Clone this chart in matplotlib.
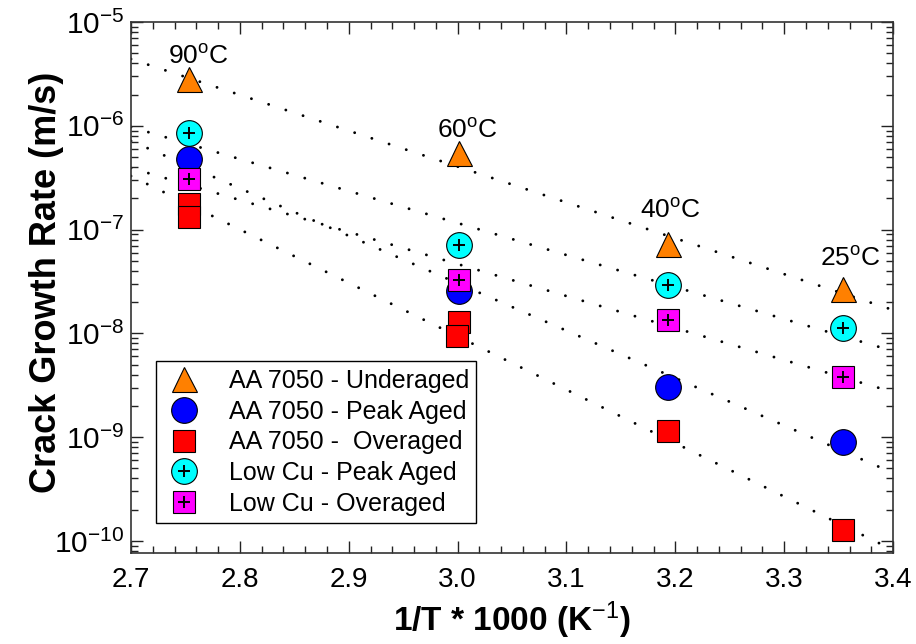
import numpy as np
import matplotlib.pyplot as plt
import matplotlib.ticker as ticker
from matplotlib.legend_handler import HandlerTuple

# test temperatures (C) and the matching 1000/T axis positions
temps = [90, 60, 40, 25]
inv_t = [1000.0 / (t + 273.15) for t in temps]

# crack growth rates (m/s)
under_7050 = [2.85e-6, 5.5e-7, 7.3e-8, 2.7e-8]
peak_7050 = [4.75e-7, 2.57e-8, 3.07e-9, 8.9e-10]
over_x = [inv_t[0], inv_t[0], inv_t[1], 2.9995, inv_t[2], inv_t[3]]
over_7050 = [1.78e-7, 1.31e-7, 1.29e-8, 9.4e-9, 1.14e-9, 1.27e-10]
peak_lowcu = [8.6e-7, 7.1e-8, 2.9e-8, 1.12e-8]
over_lowcu = [3.08e-7, 3.27e-8, 1.35e-8, 3.83e-9]

# Arrhenius fit lines, rate at 1000/T = 2.7 and 3.4
fit_x = [2.7, 3.4]
fit_under = [4.4e-6, 1.68e-8]
fit_peak = [7.15e-7, 4.52e-10]
fit_over = [3.28e-7, 8.18e-11]
fit_lowcu_peak = [9.73e-7, 6.76e-9]
fit_lowcu_over = [3.92e-7, 2.72e-9]

labels = ['AA 7050 - Underaged', 'AA 7050 - Peak Aged', 'AA 7050 -  Overaged',
          'Low Cu - Peak Aged', 'Low Cu - Overaged']

plt.rcParams['font.family'] = ['Liberation Sans', 'DejaVu Sans']
plt.rcParams['mathtext.fontset'] = 'custom'
plt.rcParams['mathtext.rm'] = 'Liberation Sans'
plt.rcParams['mathtext.it'] = 'Liberation Sans:italic'
plt.rcParams['mathtext.bf'] = 'Liberation Sans:bold'

fig = plt.figure(figsize=(9.16, 6.44), dpi=100)
ax = fig.add_axes([0.143, 0.1413, 0.832, 0.8245])

dots = dict(color='k', lw=2.1, linestyle=(0, (0.01, 6.2)), dash_capstyle='round', zorder=1)
for fy in [fit_under, fit_lowcu_peak, fit_peak, fit_lowcu_over, fit_over]:
    ax.plot(fit_x, fy, **dots)

edge = dict(mec='k', mew=0.8, ls='none')
h_under, = ax.plot(inv_t, under_7050, '^', ms=18, mfc='#ff8000', zorder=3, **edge)
h_peak, = ax.plot(inv_t, peak_7050, 'o', ms=18.5, mfc='#0000ff', zorder=3, **edge)
h_over, = ax.plot(over_x, over_7050, 's', ms=16.3, mfc='#ff0000', zorder=3, **edge)
h_lpeak, = ax.plot(inv_t, peak_lowcu, 'o', ms=18.5, mfc='#00ffff', zorder=4, **edge)
h_lover, = ax.plot(inv_t, over_lowcu, 's', ms=16.3, mfc='#ff00ff', zorder=4, **edge)
h_plus, = ax.plot(inv_t + inv_t, peak_lowcu + over_lowcu, '+', ms=9, mew=1.4,
                  color='k', ls='none', zorder=5)

# temperature tags above the underaged points
tag_x = [2.7615, 3.0087, 3.1951, 3.3605]
tag_y = [3.95e-6, 7.67e-7, 1.30e-7, 4.51e-8]
for t, tx, ty in zip(temps, tag_x, tag_y):
    ax.text(tx, ty, f'{t}$^{{\\rm o}}$C', ha='center', va='baseline', fontsize=19)

ax.set_yscale('log')
ax.set_xlim(2.7, 3.4)
ax.set_ylim(10 ** -10.116, 1e-5)
ax.xaxis.set_major_locator(ticker.MultipleLocator(0.1))
ax.xaxis.set_minor_locator(ticker.MultipleLocator(0.02))
ax.xaxis.set_major_formatter(ticker.FormatStrFormatter('%.1f'))
ax.yaxis.set_major_locator(ticker.LogLocator(base=10, numticks=10))
ax.yaxis.set_minor_locator(ticker.LogLocator(base=10, subs=np.arange(2, 10), numticks=20))
ax.yaxis.set_minor_formatter(ticker.NullFormatter())
ax.tick_params(which='both', direction='in', top=True, right=True, width=1, colors='#222222')
ax.tick_params(which='major', length=8.5, labelcolor='k')
ax.tick_params(which='minor', length=5)
ax.tick_params(axis='x', which='major', pad=10, labelsize=20)
ax.tick_params(axis='y', which='major', pad=5, labelsize=21.5)
for s in ax.spines.values():
    s.set_linewidth(1.2)
    s.set_color('#333333')

ax.set_xlabel('1/T * 1000 (K$^{-1}$)', fontsize=24, fontweight='bold')
ax.set_ylabel('Crack Growth Rate (m/s)', fontsize=26, fontweight='bold')
ax.xaxis.set_label_coords(0.5, -0.088)
ax.yaxis.set_label_coords(-0.088, 0.51)

leg = ax.legend([h_under, h_peak, h_over, (h_lpeak, h_plus), (h_lover, h_plus)], labels,
                handler_map={tuple: HandlerTuple(ndivide=1, pad=0)},
                loc='lower left', bbox_to_anchor=(0.033, 0.056), borderaxespad=0,
                fontsize=18, frameon=True, fancybox=False, framealpha=1,
                edgecolor='k', handlelength=1.6, handletextpad=1.0,
                labelspacing=0.27, borderpad=0.3, numpoints=1)
leg.get_frame().set_linewidth(1.0)

fig.savefig('out.png', dpi=100)
